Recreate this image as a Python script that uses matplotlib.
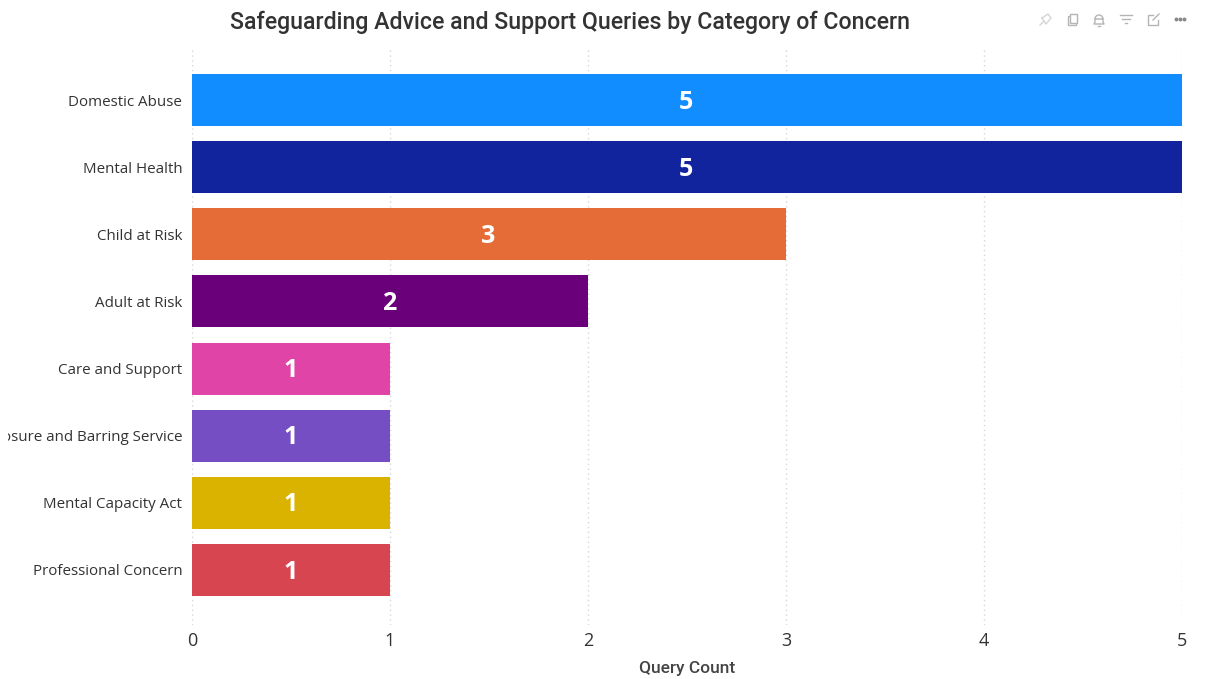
import matplotlib
matplotlib.use("Agg")
import matplotlib.pyplot as plt
from matplotlib.patches import Rectangle, Circle, Wedge
from matplotlib.transforms import Bbox

categories = ["Domestic Abuse", "Mental Health", "Child at Risk", "Adult at Risk",
              "Care and Support", "Disclosure and Barring Service",
              "Mental Capacity Act", "Professional Concern"]
query_count = [5, 5, 3, 2, 1, 1, 1, 1]
bar_colors = ["#118DFF", "#12239E", "#E66C37", "#6B007B",
              "#E044A7", "#744EC2", "#D9B300", "#D64550"]
x_ticks = [0, 1, 2, 3, 4, 5]

W, H = 1206, 679
fig = plt.figure(figsize=(W / 100, H / 100), dpi=100)

ax = fig.add_axes([192 / W, 1 - 625 / H, 990 / W, 578 / H])
y_pos = list(range(len(categories)))
ax.barh(y_pos, query_count, height=0.775, color=bar_colors, zorder=3)
ax.set_xlim(0, 5)
ax.set_ylim(7.82, -0.79)

for s in ax.spines.values():
    s.set_visible(False)
ax.set_xticks(x_ticks)
ax.grid(axis="x", color="#d6d6d6", linestyle=(0, (1, 2.5)), linewidth=1, zorder=0)
ax.set_axisbelow(True)
ax.tick_params(length=0)
ax.tick_params(axis="x", labelsize=13, labelcolor="#333333", pad=5)
for t in ax.get_xticklabels():
    t.set_family("Open Sans")

ax.set_yticks(y_pos, categories)
ax.tick_params(axis="y", labelsize=10.9, labelcolor="#333333", pad=7)
# long category names get cut at the left edge of the visual
for t in ax.get_yticklabels():
    t.set_family("Open Sans")
    t.set_clip_box(Bbox([[8, 0], [W, H]]))
    t.set_clip_on(True)

for y, v in zip(y_pos, query_count):
    ax.annotate(str(v), (v / 2, y), xytext=(-0.5, -1.5), textcoords="offset points",
                ha="center", va="center", color="white", fontsize=18,
                fontweight="bold", family="Open Sans", zorder=4)

ax.set_xlabel("Query Count", fontsize=12.5, color="#444444", family="Roboto",
              fontweight="medium", labelpad=8)
fig.text(570 / W, 1 - 22 / H, "Safeguarding Advice and Support Queries by Category of Concern",
         ha="center", va="center", fontsize=16.7, color="#333333", family="Roboto",
         fontweight="medium")

# header icons, drawn in pixel coordinates
ov = fig.add_axes([0, 0, 1, 1], facecolor="none")
ov.set_xlim(0, W)
ov.set_ylim(H, 0)
ov.axis("off")
c = "#b4b4b4"
# pin
ov.plot([1040, 1044], [25, 21], color="#d6d6d6", lw=1)
ov.plot([1042, 1048, 1051, 1046, 1042], [18, 14, 18, 24, 18], color="#d6d6d6", lw=1)
# copy
ov.add_patch(Rectangle((1068, 16), 8, 9, fc="white", ec=c, lw=1))
ov.add_patch(Rectangle((1070, 14), 7, 9, fc="white", ec=c, lw=1))
# bell
ov.add_patch(Wedge((1099, 19), 4, 180, 360, fill=False, ec=c, lw=1))
ov.plot([1095, 1095, 1094, 1104, 1103, 1103], [19, 22, 24, 24, 22, 19], color=c, lw=1)
ov.plot([1098, 1100], [26, 26], color=c, lw=1)
# filter
ov.plot([1120, 1132], [15, 15], color=c, lw=1)
ov.plot([1122, 1130], [19, 19], color=c, lw=1)
ov.plot([1125, 1127], [23, 23], color=c, lw=1)
# focus mode
ov.plot([1153, 1148, 1148, 1158, 1158], [15, 15, 25, 25, 20], color=c, lw=1)
ov.plot([1153, 1159], [20, 14], color=c, lw=1)
# more options
ov.plot([1176, 1180, 1184], [19, 19, 19], color="#888888", linestyle="none",
        marker="o", markersize=1.8)

fig.savefig("out.png", dpi=100, facecolor="white")
